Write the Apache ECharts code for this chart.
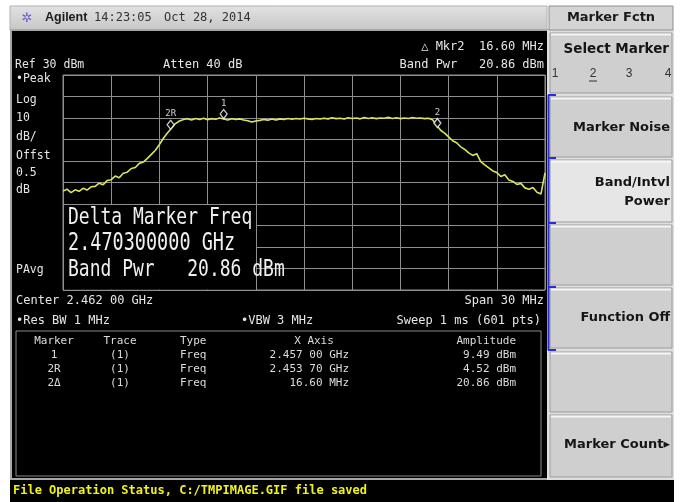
<!DOCTYPE html>
<html>
<head>
<meta charset="utf-8">
<title>Agilent - Band/Intvl Power</title>
<script src="https://cdn.jsdelivr.net/npm/echarts@6/dist/echarts.min.js"></script>
<style>
html, body { margin: 0; padding: 0; background: #fff; }
#chart { width: 688px; height: 502px; }
</style>
</head>
<body>
<div id="chart"></div>
<script type="text/javascript">
// sweep samples (MHz) and trace level (dBm)
var traceFreq = [
	2447, 2447.25, 2447.5, 2447.75, 2448, 2448.25, 2448.5, 2448.75, 2449, 2449.25, 2449.5, 2449.75,
	2450, 2450.25, 2450.5, 2450.75, 2451, 2451.25, 2451.5, 2451.75, 2452, 2452.25, 2452.5, 2452.75,
	2453, 2453.25, 2453.5, 2453.75, 2454, 2454.25, 2454.5, 2454.75, 2455, 2455.25, 2455.5, 2455.75,
	2456, 2456.25, 2456.5, 2456.75, 2457, 2457.25, 2457.5, 2457.75, 2458, 2458.25, 2458.5, 2458.75,
	2459, 2459.25, 2459.5, 2459.75, 2460, 2460.25, 2460.5, 2460.75, 2461, 2461.25, 2461.5, 2461.75,
	2462, 2462.25, 2462.5, 2462.75, 2463, 2463.25, 2463.5, 2463.75, 2464, 2464.25, 2464.5, 2464.75,
	2465, 2465.25, 2465.5, 2465.75, 2466, 2466.25, 2466.5, 2466.75, 2467, 2467.25, 2467.5, 2467.75,
	2468, 2468.25, 2468.5, 2468.75, 2469, 2469.25, 2469.5, 2469.75, 2470, 2470.25, 2470.5, 2470.75,
	2471, 2471.25, 2471.5, 2471.75, 2472, 2472.25, 2472.5, 2472.75, 2473, 2473.25, 2473.5, 2473.75,
	2474, 2474.25, 2474.5, 2474.75, 2475, 2475.25, 2475.5, 2475.75, 2476, 2476.25, 2476.5, 2476.75,
	2477
];
var traceLevel = [
	-24.0, -23.1, -24.7, -23.4, -24.1, -22.7, -23.5, -22.0, -21.8, -20.3, -21.0, -19.1,
	-18.7, -17.0, -17.8, -15.7, -15.2, -13.5, -13.0, -11.1, -10.5, -8.8, -6.9, -5.0,
	-2.3, 0.6, 3.0, 5.2, 7.4, 8.6, 9.3, 9.7, 9.1, 9.8, 9.3, 9.9,
	9.2, 9.7, 9.4, 10.0, 9.5, 9.1, 9.7, 9.3, 9.6, 9.1, 8.7, 8.1,
	8.6, 8.9, 9.3, 9.0, 9.5, 9.1, 9.6, 9.3, 9.8, 9.4, 9.8, 9.5,
	9.9, 9.6, 9.3, 9.8, 9.5, 9.9, 9.6, 10.1, 9.7, 9.9, 9.5, 10.1,
	9.8, 10.0, 9.6, 10.2, 9.8, 10.1, 9.7, 10.0, 9.9, 10.3, 9.8, 10.1,
	9.7, 10.0, 9.8, 10.2, 9.9, 10.0, 9.7, 9.9, 9.2, 6.8, 4.3, 3.0,
	1.2, -0.6, -1.5, -3.4, -4.6, -6.2, -7.4, -6.6, -10.3, -11.8, -13.2, -14.6,
	-15.4, -17.2, -16.4, -18.8, -19.5, -20.9, -20.4, -22.5, -23.1, -22.3, -24.5, -25.3,
	-15.5
];

var markerNames = ['1', '2R', '2'];
var markerFreq = [2457.00, 2453.70, 2470.30];
var markerLevel = [9.49, 4.52, 5.3];

var startMHz = 2447, stopMHz = 2477, divMHz = 3;
var refLevel = 30, bottomLevel = -70, dbPerDiv = 10;

var tableHead = ['Marker', 'Trace', 'Type', 'X Axis', 'Amplitude'];
var tableRows = [
	['1', '(1)', 'Freq', '2.457 00 GHz', '9.49 dBm'],
	['2R', '(1)', 'Freq', '2.453 70 GHz', '4.52 dBm'],
	['2\u0394', '(1)', 'Freq', '16.60 MHz', '20.86 dBm']
];

var leftLabels = ['\u2022Peak', 'Log', '10', 'dB/', 'Offst', '0.5', 'dB'];
var leftLabelY = [79, 100, 118, 137, 156, 173, 190];

var MONO = '"DejaVu Sans Mono", "Liberation Mono", monospace';
var SANS = '"Liberation Sans", Arial, "DejaVu Sans", sans-serif';
var KEYS = '"DejaVu Sans", Verdana, sans-serif';

function txt(x, y, s, size, align, fill, font, weight, sy) {
	return {
		type: 'text', x: x, y: y, z: 60, scaleY: sy || 1,
		style: {
			text: s, fill: fill || '#e6e6e6',
			font: (weight || 'normal') + ' ' + size + 'px ' + (font || MONO),
			textAlign: align || 'left', textVerticalAlign: 'middle'
		}
	};
}
function box(x, y, w, h, fill, stroke, z, lw) {
	return {
		type: 'rect', z: z === undefined ? -5 : z,
		shape: {x: x, y: y, width: w, height: h},
		style: {fill: fill || 'none', stroke: stroke || 'none', lineWidth: lw || 1}
	};
}
function seg(x1, y1, x2, y2, color, w, z) {
	return {
		type: 'line', z: z === undefined ? 5 : z,
		shape: {x1: x1, y1: y1, x2: x2, y2: y2},
		style: {stroke: color, lineWidth: w || 1}
	};
}

var g = [];
// frame, title bar, screen, status bar
g.push(box(10, 6, 537, 24, {type: 'linear', x: 0, y: 0, x2: 0, y2: 1,
	colorStops: [{offset: 0, color: '#e2e2e2'}, {offset: 1, color: '#c6c6c6'}]}, '#b0b0b0'));
g.push(box(11, 30, 537, 449, '#000', '#a6a6a6', -5, 2));
g.push(box(10, 480, 664, 22, '#000'));
g.push(box(547, 30, 127, 450, '#dedede'));

// Agilent logo + clock
g.push(txt(27, 18, '\u2732', 13, 'center', '#6e5fd0', SANS, 'bold'));
g.push(txt(45, 18, 'Agilent', 12.5, 'left', '#1a1a1a', SANS, 'bold'));
g.push(txt(94, 18, '14:23:05', 12, 'left', '#333'));
g.push(txt(164, 18, 'Oct 28, 2014', 12, 'left', '#333'));

// screen annotations
g.push(txt(15, 65, 'Ref 30 dBm', 11.5));
g.push(txt(163, 65, 'Atten 40 dB', 12));
g.push(txt(544, 47, '\u25B3 Mkr2  16.60 MHz', 12, 'right'));
g.push(txt(544, 65, 'Band Pwr   20.86 dBm', 12, 'right'));
for (var i = 0; i < leftLabels.length; i++) {
	g.push(txt(16, leftLabelY[i], leftLabels[i], 11.5));
}
g.push(txt(16, 270, 'PAvg', 11.5));
g.push(txt(16, 301, 'Center 2.462 00 GHz', 12));
g.push(txt(544, 301, 'Span 30 MHz', 12, 'right'));
g.push(txt(16, 321, '\u2022Res BW 1 MHz', 12));
g.push(txt(241, 321, '\u2022VBW 3 MHz', 12));
g.push(txt(541, 321, 'Sweep 1 ms (601 pts)', 12, 'right'));

// big readout box over the graticule
g.push(box(64, 205, 192, 84.5, '#000', 'none', 40));
g.push(txt(68, 218, 'Delta Marker Freq', 18, 'left', '#f0f0f0', MONO, 'normal', 1.3));
g.push(txt(68, 244, '2.470300000 GHz', 18.5, 'left', '#f0f0f0', MONO, 'normal', 1.3));
g.push(txt(68, 270, 'Band Pwr   20.86 dBm', 18, 'left', '#f0f0f0', MONO, 'normal', 1.3));

// marker table
g.push(box(16, 331, 525, 145, 'none', '#8a8a8a', 5));
var colX = [54, 120, 180, 349, 516];
var colAlign = ['center', 'center', 'left', 'right', 'right'];
var rowY = [341, 355, 369, 383];
g.push(txt(54, rowY[0], tableHead[0], 11, 'center', '#dcdcdc'));
g.push(txt(120, rowY[0], tableHead[1], 11, 'center', '#dcdcdc'));
g.push(txt(180, rowY[0], tableHead[2], 11, 'left', '#dcdcdc'));
g.push(txt(314, rowY[0], tableHead[3], 11, 'center', '#dcdcdc'));
g.push(txt(516, rowY[0], tableHead[4], 11, 'right', '#dcdcdc'));
for (var r = 0; r < tableRows.length; r++) {
	for (var c = 0; c < tableRows[r].length; c++) {
		g.push(txt(colX[c], rowY[r + 1], tableRows[r][c], 11, colAlign[c], '#dcdcdc'));
	}
}

// status line
g.push(txt(13, 491, 'File Operation Status, C:/TMPIMAGE.GIF file saved', 12, 'left', '#f2f21a', MONO, 'bold'));

// softkey panel
g.push(box(549, 6, 124, 24, '#d4d4d4', '#8e8e8e'));
g.push(txt(611, 18, 'Marker Fctn', 13, 'center', '#1a1a1a', KEYS, 'bold'));
var keys = [
	{y0: 33, y1: 93, lines: []},
	{y0: 97, y1: 157, lines: ['Marker Noise'], ly: [128]},
	{y0: 160, y1: 222, lines: ['Band/Intvl', 'Power'], ly: [183, 202], on: true},
	{y0: 225, y1: 285, lines: []},
	{y0: 288, y1: 348, lines: ['Function Off'], ly: [318]},
	{y0: 352, y1: 412, lines: []},
	{y0: 415, y1: 477, lines: ['Marker Count\u25B8'], ly: [445]}
];
for (var k = 0; k < keys.length; k++) {
	var key = keys[k];
	g.push(box(550, key.y0, 122, key.y1 - key.y0, key.on ? '#e6e6e6' : '#cfcfcf', '#9c9c9c', -4));
	g.push(seg(551, key.y0 + 1.5, 671, key.y0 + 1.5, '#f6f6f6', 2, -3));
	for (var j = 0; j < key.lines.length; j++) {
		g.push(txt(670, key.ly[j], key.lines[j], 13, 'right', '#151515', KEYS, 'bold'));
	}
}
g.push(txt(669, 49, 'Select Marker', 13.5, 'right', '#151515', KEYS, 'bold'));
g.push(txt(555, 74, '1', 12, 'center', '#333', SANS));
g.push(txt(593, 74, '2', 12, 'center', '#333', SANS));
g.push(txt(629, 74, '3', 12, 'center', '#333', SANS));
g.push(txt(668, 74, '4', 12, 'center', '#333', SANS));
g.push(seg(589, 81, 597, 81, '#333', 1));

// blue focus bracket
g.push(seg(548.5, 95, 548.5, 350, '#2a2ae6', 2));
var ticksY = [95, 158, 223, 287, 350];
for (var b = 0; b < ticksY.length; b++) {
	g.push(seg(548, ticksY[b], 556, ticksY[b], '#2a2ae6', 2));
}

var traceData = [];
for (var p = 0; p < traceFreq.length; p++) {
	traceData.push([traceFreq[p], traceLevel[p]]);
}
var markerData = [];
for (var m = 0; m < markerNames.length; m++) {
	markerData.push({name: markerNames[m], value: [markerFreq[m], markerLevel[m]]});
}

var gridLine = {show: true, lineStyle: {color: '#8e8e8e', width: 1}};
var option = {
	backgroundColor: '#fff',
	animation: false,
	grid: {
		left: 63, top: 75, width: 482, height: 215,
		show: true, borderColor: '#8e8e8e', borderWidth: 1
	},
	xAxis: {
		type: 'value', min: startMHz, max: stopMHz, interval: divMHz,
		axisLine: {show: false}, axisTick: {show: false}, axisLabel: {show: false},
		splitLine: gridLine
	},
	yAxis: {
		type: 'value', min: bottomLevel, max: refLevel, interval: dbPerDiv,
		axisLine: {show: false}, axisTick: {show: false}, axisLabel: {show: false},
		splitLine: gridLine
	},
	series: [{
		type: 'line',
		data: traceData,
		showSymbol: false,
		z: 3,
		lineStyle: {color: '#dbe55c', width: 1.6}
	}, {
		type: 'scatter',
		data: markerData,
		symbol: 'diamond',
		symbolSize: [7, 9],
		symbolOffset: [0, -5],
		z: 4,
		itemStyle: {color: '#000', borderColor: '#fff', borderWidth: 1.3},
		label: {
			show: true, position: 'top', distance: 1, formatter: '{b}',
			color: '#fff', fontSize: 9, fontFamily: 'DejaVu Sans Mono'
		}
	}],
	graphic: {elements: g}
};

var myChart = echarts.init(document.getElementById('chart'));
myChart.setOption(option);
</script>
</body>
</html>
